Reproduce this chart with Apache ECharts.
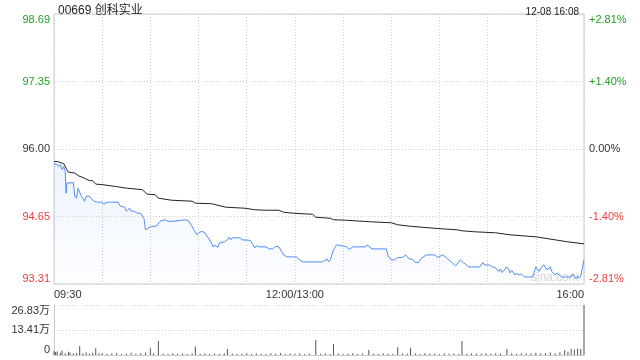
<!DOCTYPE html>
<html>
<head>
<meta charset="utf-8">
<script src="https://cdn.jsdelivr.net/npm/echarts@6/dist/echarts.min.js"></script>
<style>
html,body{margin:0;padding:0;background:#fff;}
#c{width:640px;height:360px;}
</style>
</head>
<body>
<div id="c"></div>
<script>
// ---- data ----
var titleText = '00669 创科实业';
var timeText = '12-08 16:08';
var prevClose = 96.00;
var priceLabels = ['93.31', '94.65', '96.00', '97.35', '98.69'];
var pctLabels = ['-2.81%', '-1.40%', '0.00%', '+1.40%', '+2.81%'];
var volLabels = ['0', '13.41万', '26.83万'];
var xLabelMinutes = [0, 150, 330];
var xLabelTexts = ['09:30', '12:00/13:00', '16:00'];

// price line (minute index, price)
var priceMin = [0,2,3,4,5,6,7,7.5,8,9,12,13,14,15,16,17,18,19,20,21,22,23,25,27,30,31,33,40,41,44,45,47,48,50,52,54,56,57,60,64,66,69,70,71,74,75,82,84,86,87,89,90,92,94,96,98,99,100,102,103,106,108,109,110,111,116,117,122,124,125,126,128,132,134,136,138,140,143,145,151,153,155,167,170,171,172,174,176,178,182,184,186,194,195,198,207,208,210,212,214,217,219,221,223,225,227,229,232,237,239,242,244,247,250,251,253,255,256,257,258,263,264,265,267,268,271,273,275,277,278,279,282,283,284,285,287,288,289,291,293,298,300,302,303,305,307,309,310,312,313,316,322,323,325,326,327,328,330];
var priceVal = [95.71,95.69,95.65,95.69,95.59,95.65,95.55,95.12,95.32,95.33,95.33,95.06,95.02,95.22,95.25,95.06,95.02,94.96,95.06,95.09,95.06,95.02,94.96,94.94,94.94,94.90,94.94,94.94,94.87,94.84,94.76,94.82,94.76,94.76,94.72,94.72,94.62,94.39,94.45,94.47,94.56,94.59,94.57,94.56,94.56,94.59,94.59,94.56,94.46,94.39,94.29,94.33,94.36,94.33,94.23,94.13,94.05,94.09,94.04,94.13,94.15,94.19,94.24,94.19,94.23,94.23,94.19,94.18,94.09,94.03,94.07,94.05,94.05,94.01,94.01,94.06,94.05,93.89,93.85,93.85,93.79,93.75,93.75,93.81,93.75,93.79,93.99,94.09,94.08,94.05,94.00,94.05,94.05,94.09,94.01,94.01,93.87,93.79,93.79,93.84,93.84,93.89,93.81,93.81,93.74,93.74,93.83,93.89,93.89,93.84,93.89,93.84,93.76,93.67,93.67,93.79,93.73,93.76,93.69,93.65,93.65,93.67,93.65,93.74,93.69,93.69,93.65,93.63,93.56,93.61,93.54,93.65,93.61,93.53,93.58,93.49,93.53,93.49,93.51,93.45,93.45,93.65,93.56,93.63,93.69,93.59,93.65,93.56,93.49,93.53,93.45,93.45,93.51,93.41,93.47,93.43,93.47,93.79];

// average price line
var avgMin = [0,2,6,8,9,13,15,18,20,22,24,26,30,39,45,55,58,63,65,73,86,88,98,107,119,125,131,140,143,149,161,163,172,174,182,197,210,214,222,241,251,254,262,275,284,300,314,320,330];
var avgVal = [95.75,95.75,95.71,95.59,95.54,95.52,95.47,95.43,95.40,95.37,95.37,95.30,95.29,95.25,95.22,95.19,95.10,95.09,95.02,94.98,94.96,94.92,94.91,94.84,94.82,94.79,94.78,94.78,94.74,94.72,94.70,94.64,94.62,94.59,94.58,94.55,94.53,94.49,94.46,94.41,94.39,94.37,94.35,94.33,94.29,94.25,94.18,94.15,94.11];

// volume (万)
var volMin = [0,1,2,4,5,7,9,10,12,14,16,18,20,22,24,26,28,30,33,36,39,42,45,48,51,54,57,60,62,65,68,71,74,77,80,83,86,88,91,94,97,100,103,106,108,111,114,117,120,123,126,129,132,135,138,141,144,147,150,153,156,159,163,166,169,172,174,177,180,183,186,189,192,196,199,202,205,208,211,214,217,220,222,225,228,231,234,237,240,243,246,249,252,254,257,260,263,266,269,272,275,278,282,285,288,291,294,297,300,303,306,309,312,315,318,320,322,324,326,328,330];
var volVal = [2.2,1.6,1.9,1.2,2.4,1.0,1.8,1.3,0.9,1.1,4.8,1.0,1.4,0.8,1.2,3.6,0.9,1.1,0.7,0.9,1.0,0.6,0.8,1.2,0.7,0.9,1.3,3.6,1.0,7.5,0.8,0.6,0.9,0.7,0.8,0.6,1.0,4.5,0.7,0.9,0.6,0.8,0.7,1.0,3.2,0.8,0.6,0.7,0.9,0.6,0.8,0.7,0.6,0.9,0.7,1.1,0.6,0.8,0.7,0.9,0.6,0.8,8.0,0.7,0.9,0.6,5.9,0.8,0.6,0.7,0.9,0.6,0.8,2.7,0.7,0.6,0.9,0.7,0.6,4.1,0.8,0.7,3.9,0.8,0.6,0.9,0.7,0.8,0.6,0.9,0.7,0.8,0.6,7.5,0.7,1.0,0.8,0.7,0.9,0.7,1.0,0.8,3.2,0.9,0.7,1.0,0.8,0.9,1.2,0.8,1.1,1.4,1.0,1.5,2.6,1.8,3.4,2.9,3.5,3.2,26.83];

// ---- chart ----
var priceMinAxis = 93.31, priceMaxAxis = 98.69, priceStep = 1.345;
var pctMinAxis = -2.81, pctMaxAxis = 2.81, pctStep = 1.405;
var volMaxAxis = 26.83, volStep = 13.415;
var GREEN = '#22a022', RED = '#f03c3c', DARK = '#333';
var FONT = '"Liberation Sans", Arial, "Noto Sans CJK SC", sans-serif';

function zip(a, b) { return a.map(function (v, i) { return [v, b[i]]; }); }
function idxColor(i) { return i > 2 ? GREEN : (i < 2 ? RED : DARK); }

var chart = echarts.init(document.getElementById('c'), null, {renderer: 'canvas'});
var dotted = {color: '#cfcfcf', type: [1, 2], width: 1};

var option = {
  animation: false,
  backgroundColor: '#fff',
  textStyle: {fontFamily: FONT},
  title: [
    {text: titleText, left: 53, top: 0, textStyle: {fontSize: 12, fontWeight: 'normal', color: '#222', fontFamily: FONT}},
    {text: timeText, right: 56, top: 2, textStyle: {fontSize: 10, fontWeight: 'normal', color: '#222', fontFamily: FONT}}
  ],
  graphic: [
    {type: 'text', left: 531, top: 272, z: 0, style: {text: 'sina.com', fill: '#d6d6d6', font: '12px ' + FONT}}
  ],
  grid: [
    {left: 54, right: 56, top: 14, height: 270, show: true, borderColor: '#cccccc', borderWidth: 1, backgroundColor: 'transparent'},
    {left: 54, right: 56, top: 305, height: 50}
  ],
  xAxis: [
    {
      type: 'value', gridIndex: 0, min: 0, max: 330, interval: 30,
      axisLine: {show: false}, axisTick: {show: false},
      splitLine: {show: true, lineStyle: dotted},
      axisLabel: {
        show: true, margin: 5, fontSize: 11, color: DARK, fontFamily: FONT,
        showMinLabel: true, showMaxLabel: true,
        alignMinLabel: 'left', alignMaxLabel: 'right',
        formatter: function (v) {
          var i = xLabelMinutes.indexOf(Math.round(v));
          return i >= 0 ? xLabelTexts[i] : '';
        }
      }
    },
    {
      type: 'value', gridIndex: 1, min: 0, max: 330, interval: 30,
      axisLine: {show: true, lineStyle: {color: '#cccccc'}}, axisTick: {show: false},
      splitLine: {show: false}, axisLabel: {show: false}
    }
  ],
  yAxis: [
    {
      type: 'value', gridIndex: 0, position: 'left', min: priceMinAxis, max: priceMaxAxis, interval: priceStep,
      axisLine: {show: false}, axisTick: {show: false},
      splitLine: {show: true, lineStyle: dotted},
      axisLabel: {
        margin: 4, fontSize: 11, fontFamily: FONT,
        verticalAlignMinLabel: 'bottom', verticalAlignMaxLabel: 'top',
        formatter: function (v) { return priceLabels[Math.round((v - priceMinAxis) / priceStep)]; },
        color: function (v) { return idxColor(Math.round((v - priceMinAxis) / priceStep)); }
      }
    },
    {
      type: 'value', gridIndex: 0, position: 'right', min: pctMinAxis, max: pctMaxAxis, interval: pctStep,
      axisLine: {show: false}, axisTick: {show: false}, splitLine: {show: false},
      axisLabel: {
        margin: 5, fontSize: 11, fontFamily: FONT,
        verticalAlignMinLabel: 'bottom', verticalAlignMaxLabel: 'top',
        formatter: function (v) { return pctLabels[Math.round((v - pctMinAxis) / pctStep)]; },
        color: function (v) { return idxColor(Math.round((v - pctMinAxis) / pctStep)); }
      }
    },
    {
      type: 'value', gridIndex: 1, min: 0, max: volMaxAxis, interval: volStep,
      axisLine: {show: true, lineStyle: {color: '#cccccc'}}, axisTick: {show: false},
      splitLine: {show: true, lineStyle: dotted},
      axisLabel: {
        margin: 4, fontSize: 11, color: DARK, fontFamily: FONT,
        verticalAlignMinLabel: 'bottom', verticalAlignMaxLabel: 'top',
        formatter: function (v) { return volLabels[Math.round(v / volStep)]; }
      }
    }
  ],
  series: [
    {
      name: 'price', type: 'line', xAxisIndex: 0, yAxisIndex: 0,
      data: zip(priceMin, priceVal), showSymbol: false, symbol: 'none',
      lineStyle: {color: '#4f8ef5', width: 1},
      areaStyle: {
        origin: 'start',
        color: new echarts.graphic.LinearGradient(0, 0, 0, 1, [
          {offset: 0, color: 'rgba(80,140,240,0.14)'},
          {offset: 1, color: 'rgba(80,140,240,0.02)'}
        ])
      },
      z: 3
    },
    {
      name: 'avg', type: 'line', xAxisIndex: 0, yAxisIndex: 0,
      data: zip(avgMin, avgVal), showSymbol: false, symbol: 'none',
      lineStyle: {color: '#222', width: 1}, z: 4
    },
    {
      name: 'vol', type: 'bar', xAxisIndex: 1, yAxisIndex: 2,
      data: zip(volMin, volVal), barWidth: 1,
      itemStyle: {color: '#555'}
    }
  ]
};
chart.setOption(option);
</script>
</body>
</html>
